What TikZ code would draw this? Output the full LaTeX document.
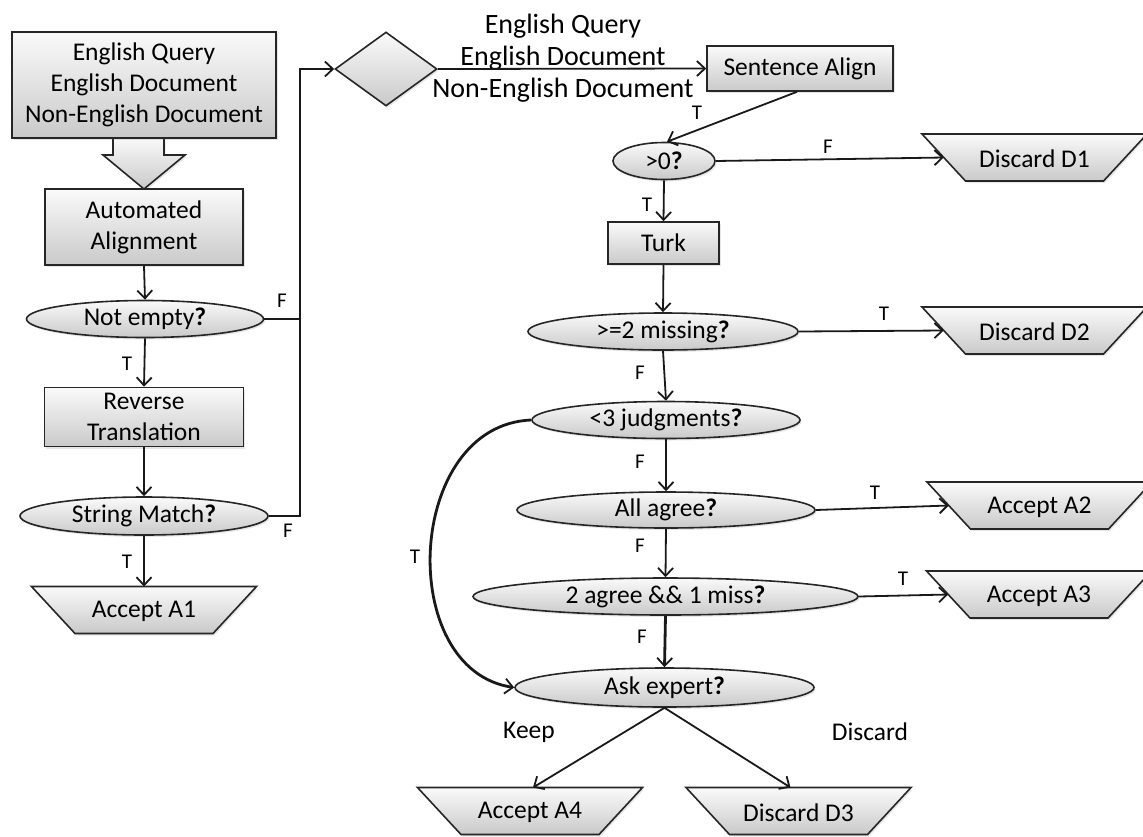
\documentclass[tikz,border=0pt]{standalone}
\usepackage{fontspec}
\setmainfont{Carlito}
\usetikzlibrary{shapes.geometric,arrows.meta,shadows}
\tikzset{
  shapefill/.style={draw=black!85, line width=1.6pt, top color=gray!4, bottom color=gray!42,
    drop shadow={opacity=0.2,shadow xshift=1.5pt,shadow yshift=-2pt}},
  procbox/.style={shapefill, rectangle, inner sep=0pt, align=center},
  decision/.style={shapefill, ellipse, inner sep=0pt},
  lbl/.style={inner sep=0pt, align=center},
  tf/.style={inner sep=0pt, font=\fontsize{21}{23}\selectfont},
  conn/.style={line width=1.8pt, black!90, -{Straight Barb[length=8pt,width=15pt,line width=1.8pt]}},
  thickconn/.style={conn, line width=2.8pt},
}
% name, centre x, centre y, text
\newcommand\trapnode[4]{%
  \path[shapefill] (#2-112.5,#3-23.5) -- (#2+112.5,#3-23.5) -- (#2+69,#3+23.5) -- (#2-69,#3+23.5) -- cycle;
  \node[lbl] (#1) at (#2,#3+1.5) {#4};
  \coordinate (#1-w) at (#2-90.75,#3);
  \coordinate (#1-n) at (#2,#3-23.5);
}
\begin{document}
\begin{tikzpicture}[x=1pt,y=-1pt,font=\fontsize{25.5}{31}\selectfont]
\useasboundingbox (0,0) rectangle (1143,836);

% left column
\path[shapefill] (113,137) -- (113,155) -- (103,155) -- (144,189) -- (185,155) -- (164,155) -- (164,137) -- cycle;
\node[procbox, minimum width=264pt, minimum height=106pt] (src) at (144,85) {English Query\\English Document\\Non-English Document};
\node[procbox, minimum width=198pt, minimum height=76pt] (auto) at (144,227) {Automated\\Alignment};
\node[decision, minimum width=237pt, minimum height=37pt] (ne) at (145,319) {Not empty\textbf{?}};
\node[procbox, minimum width=199pt, minimum height=59pt] (rev) at (144,417) {Reverse\\Translation};
\node[decision, minimum width=248pt, minimum height=38pt] (sm) at (144,516) {String Match\textbf{?}};
\trapnode{a1}{144}{610}{Accept A1}

% top
\node[shapefill, diamond, minimum width=102pt, minimum height=74pt, inner sep=0pt] (dia) at (386,69) {};
\node[procbox, minimum width=186pt, minimum height=45pt] (sa) at (800,68.5) {Sentence Align};
\node[lbl, font=\fontsize{28}{32}\selectfont] (msg) at (563,58) {English Query\\English Document\\Non-English Document};

% centre column
\node[decision, minimum width=102pt, minimum height=37pt] (gt0) at (664,161) {>0\textbf{?}};
\node[procbox, minimum width=111pt, minimum height=42pt] (turk) at (663.5,243) {Turk};
\node[decision, minimum width=270pt, minimum height=37pt] (m2) at (663,331.5) {>=2 missing\textbf{?}};
\node[decision, minimum width=268pt, minimum height=37pt] (j3) at (666,420) {<3 judgments\textbf{?}};
\node[decision, minimum width=298pt, minimum height=36pt] (all) at (666,510) {All agree\textbf{?}};
\node[decision, minimum width=385pt, minimum height=37pt] (two) at (665.5,596.5) {2 agree \&\& 1 miss\textbf{?}};
\node[decision, minimum width=299pt, minimum height=39pt] (ask) at (664.5,687.5) {Ask expert\textbf{?}};

% outcomes
\trapnode{d1}{1034.5}{157.5}{Discard D1}
\trapnode{d2}{1034.5}{330.5}{Discard D2}
\trapnode{a2}{1039.5}{505.5}{Accept A2}
\trapnode{a3}{1039}{594.5}{Accept A3}
\trapnode{a4}{530}{811}{Accept A4}
\trapnode{d3}{798.5}{811}{Discard D3}

% connectors, left
\draw[conn] (auto.south) -- (ne.north);
\draw[conn] (ne.south) -- (rev.north);
\node[tf] (t1) at (127,364) {T};
\draw[conn] (rev.south) -- (sm.north);
\draw[conn] (sm.south) -- (a1-n);
\node[tf] (t2) at (127,562) {T};
\coordinate (bus) at (300,69);
\draw[line width=1.8pt, black!90] (ne.east) -- (ne.east -| bus);
\draw[conn] (sm.east) -| (bus) -- (dia.west);
\node[tf] (f1) at (282,301) {F};
\node[tf] (f2) at (288,531) {F};

% connectors, top and centre
\draw[conn] (dia.east) -- (sa.west);
\draw[conn] ([xshift=-3pt]sa.south) -- ([xshift=3pt]gt0.north);
\node[tf] (t3) at (697,113) {T};
\draw[conn] (gt0.east) -- (d1-w);
\node[tf] (f3) at (828,147) {F};
\draw[conn] (gt0.south) -- (turk.north);
\node[tf] (t4) at (647,205) {T};
\draw[conn] (turk.south) -- (m2.north);
\draw[conn] (m2.east) -- (d2-w);
\node[tf] (t5) at (884,314) {T};
\draw[conn] (m2.south) -- (j3.north);
\node[tf] (f4) at (640,373) {F};
\draw[thickconn] (j3.south) -- (all.north);
\node[tf] (f5) at (640,462) {F};
\draw[conn] (all.east) -- (a2-w);
\node[tf] (t6) at (875,493) {T};
\draw[conn] (all.south) -- (two.north);
\node[tf] (f6) at (640,546) {F};
\draw[conn] (two.east) -- (a3-w);
\node[tf] (t7) at (903,579) {T};
\draw[thickconn] (two.south) -- (ask.north);
\node[tf] (f7) at (642,637) {F};
\draw[thickconn] (j3.west) .. controls (405,425) and (395,670) .. (ask.west);
\node[tf] (t8) at (415,557) {T};
\draw[conn] (ask.south) -- ([xshift=3pt]a4-n);
\draw[conn] (ask.south) -- ([xshift=-8pt]d3-n);
\node[lbl] (keep) at (529,732) {Keep};
\node[lbl] (disc) at (870,732) {Discard};
\end{tikzpicture}
\end{document}
